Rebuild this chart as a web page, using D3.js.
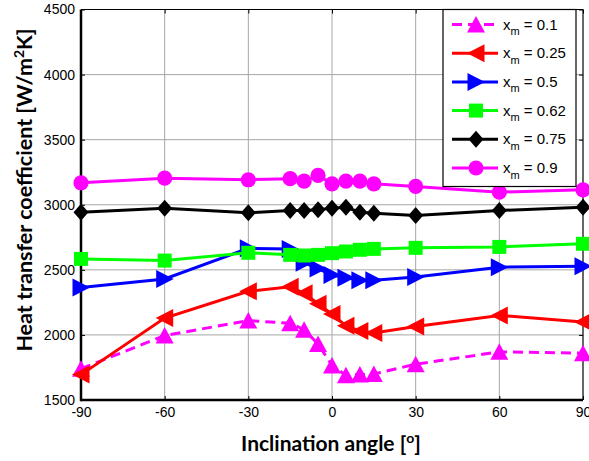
<!DOCTYPE html>
<html>
<head>
<meta charset="utf-8">
<script src="https://cdn.jsdelivr.net/npm/d3@7"></script>
<style>
  body { margin: 0; background: #fff; }
  svg { display: block; }
</style>
</head>
<body>
<div id="chart"></div>
<script>

// inclination angles (deg)
let angles = [-90, -60, -30, -15, -10, -5, 0, 5, 10, 15, 30, 60, 90];

// heat transfer coefficient [W/m2K] per vapour quality
let h01  = [1740, 1995, 2110, 2090, 2040, 1930, 1765, 1690, 1695, 1700, 1775, 1870, 1860];
let h025 = [1695, 2130, 2335, 2370, 2320, 2240, 2160, 2070, 2030, 2015, 2065, 2150, 2100];
let h05  = [2365, 2430, 2665, 2660, 2555, 2510, 2460, 2440, 2420, 2420, 2445, 2520, 2528];
let h062 = [2584, 2571, 2631, 2615, 2610, 2615, 2628, 2641, 2654, 2661, 2669, 2676, 2700];
let h075 = [2943, 2974, 2938, 2956, 2956, 2961, 2974, 2981, 2943, 2935, 2917, 2956, 2981];
let h09  = [3169, 3204, 3192, 3200, 3181, 3225, 3161, 3181, 3181, 3161, 3141, 3097, 3115];

let seriesNames = ["0.1", "0.25", "0.5", "0.62", "0.75", "0.9"];
let seriesValues = [h01, h025, h05, h062, h075, h09];
let seriesColors = ["#ff00ff", "#ff0000", "#0000ff", "#00ff00", "#000000", "#ff00ff"];
let seriesMarkers = ["up", "left", "right", "square", "diamond", "circle"];

let xTicks = [-90, -60, -30, 0, 30, 60, 90];
let yTicks = [1500, 2000, 2500, 3000, 3500, 4000, 4500];

let svgWidth = 589;
let svgHeight = 461;

let margin = {
  top: 9.5,
  right: 6,
  bottom: 61,
  left: 81
};

let width = svgWidth - margin.left - margin.right;
let height = svgHeight - margin.top - margin.bottom;

let svg = d3.select("#chart")
  .append("svg")
  .attr("width", svgWidth)
  .attr("height", svgHeight);

let chartGroup = svg.append("g")
  .attr("transform", `translate(${margin.left}, ${margin.top})`);

let xLinearScale = d3.scaleLinear().domain([-90, 90]).range([0, width]);
let yLinearScale = d3.scaleLinear().domain([1500, 4500]).range([height, 0]);

// grid
chartGroup.selectAll(".xgrid")
  .data(xTicks.slice(1, -1))
  .enter()
  .append("line")
  .attr("x1", d => xLinearScale(d))
  .attr("x2", d => xLinearScale(d))
  .attr("y1", 0)
  .attr("y2", height)
  .attr("stroke", "#a6a6a6")
  .attr("stroke-width", 1);

chartGroup.selectAll(".ygrid")
  .data(yTicks.slice(1, -1))
  .enter()
  .append("line")
  .attr("x1", 0)
  .attr("x2", width)
  .attr("y1", d => yLinearScale(d))
  .attr("y2", d => yLinearScale(d))
  .attr("stroke", "#a6a6a6")
  .attr("stroke-width", 1);

// axes
let plain = d => String(d);
let bottomAxis = d3.axisBottom(xLinearScale).tickValues(xTicks).tickFormat(plain).tickSize(-4).tickPadding(7);
let leftAxis = d3.axisLeft(yLinearScale).tickValues(yTicks).tickFormat(plain).tickSize(-4).tickPadding(6);
let topAxis = d3.axisTop(xLinearScale).tickValues(xTicks).tickSize(-4).tickFormat("");
let rightAxis = d3.axisRight(yLinearScale).tickValues(yTicks).tickSize(-4).tickFormat("");

function styleAxis(g) {
  g.attr("font-family", null).attr("font-size", null);
  g.select(".domain").remove();
  g.selectAll("text")
    .attr("fill", "#000")
    .style("font-family", "'Liberation Sans', Arial, sans-serif")
    .style("font-size", "14px");
  g.selectAll("line").attr("stroke", "#000");
}

chartGroup.append("g").attr("transform", `translate(0, ${height})`).call(bottomAxis).call(styleAxis);
chartGroup.append("g").call(leftAxis).call(styleAxis);
chartGroup.append("g").call(topAxis).call(styleAxis);
chartGroup.append("g").attr("transform", `translate(${width}, 0)`).call(rightAxis).call(styleAxis);

// frame
chartGroup.append("line").attr("x1", 0).attr("x2", width).attr("y1", 0).attr("y2", 0)
  .attr("stroke", "#000").attr("stroke-width", 1.2);
chartGroup.append("line").attr("x1", width).attr("x2", width).attr("y1", 0).attr("y2", height)
  .attr("stroke", "#000").attr("stroke-width", 1.2);
chartGroup.append("line").attr("x1", 0).attr("x2", width).attr("y1", height).attr("y2", height)
  .attr("stroke", "#000").attr("stroke-width", 2.5);
chartGroup.append("line").attr("x1", 0).attr("x2", 0).attr("y1", 0).attr("y2", height + 1.2)
  .attr("stroke", "#000").attr("stroke-width", 2.5);

// marker shapes
function markerPath(type) {
  if (type === "up") return "M0,-8.5L9,8L-9,8Z";
  if (type === "left") return "M-9,0L8.5,-9L8.5,9Z";
  if (type === "right") return "M9,0L-8.5,-9L-8.5,9Z";
  if (type === "square") return "M-7,-7L7,-7L7,7L-7,7Z";
  if (type === "diamond") return "M0,-8.5L7.5,0L0,8.5L-7.5,0Z";
  return d3.symbol().type(d3.symbolCircle).size(Math.PI * 7.6 * 7.6)();
}

let line = d3.line()
  .x(d => xLinearScale(d[0]))
  .y(d => yLinearScale(d[1]));

seriesValues.forEach(function(vals, i) {
  let pts = angles.map((a, j) => [a, vals[j]]);
  let g = chartGroup.append("g");

  g.append("path")
    .datum(pts)
    .attr("d", line)
    .attr("fill", "none")
    .attr("stroke", seriesColors[i])
    .attr("stroke-width", 3)
    .attr("stroke-dasharray", i === 0 ? "10,6" : null);

  g.selectAll(".mk")
    .data(pts)
    .enter()
    .append("path")
    .attr("d", markerPath(seriesMarkers[i]))
    .attr("transform", d => `translate(${xLinearScale(d[0])}, ${yLinearScale(d[1])})`)
    .attr("fill", seriesColors[i]);
});

// legend
let legend = svg.append("g").attr("transform", "translate(443, 9.5)");
legend.append("rect")
  .attr("width", 133)
  .attr("height", 177)
  .attr("fill", "#fff")
  .attr("stroke", "#000")
  .attr("stroke-width", 1.2);

seriesNames.forEach(function(name, i) {
  let row = legend.append("g").attr("transform", `translate(0, ${15 + i * 28.7})`);
  row.append("line")
    .attr("x1", 9).attr("x2", 55)
    .attr("stroke", seriesColors[i])
    .attr("stroke-width", 3)
    .attr("stroke-dasharray", i === 0 ? "10,6" : null);
  row.append("path")
    .attr("d", markerPath(seriesMarkers[i]))
    .attr("transform", "translate(33, 0)")
    .attr("fill", seriesColors[i]);
  let t = row.append("text")
    .attr("x", 60)
    .attr("y", 5)
    .style("font-family", "'Liberation Sans', Arial, sans-serif")
    .style("font-size", "15px");
  t.append("tspan").text("x");
  t.append("tspan").attr("dy", 5.5).style("font-size", "11px").text("m");
  t.append("tspan").attr("dy", -5.5).text(" = " + name);
});

// axis titles
let xTitle = svg.append("text")
  .attr("x", 331)
  .attr("y", 451)
  .attr("text-anchor", "middle")
  .style("font-family", "Lato, 'Open Sans', sans-serif")
  .style("font-weight", "bold")
  .style("font-size", "21px");
xTitle.append("tspan").text("Inclination angle [");
xTitle.append("tspan").attr("dy", -8).style("font-size", "14px").text("o");
xTitle.append("tspan").attr("dy", 8).text("]");

let yTitle = svg.append("text")
  .attr("transform", "translate(32, 190) rotate(-90)")
  .attr("text-anchor", "middle")
  .style("font-family", "Lato, 'Open Sans', sans-serif")
  .style("font-weight", "bold")
  .style("font-size", "21.5px");
yTitle.append("tspan").text("Heat transfer coefficient [W/m");
yTitle.append("tspan").attr("dy", -8).style("font-size", "14px").text("2");
yTitle.append("tspan").attr("dy", 8).text("K]");

</script>
</body>
</html>
